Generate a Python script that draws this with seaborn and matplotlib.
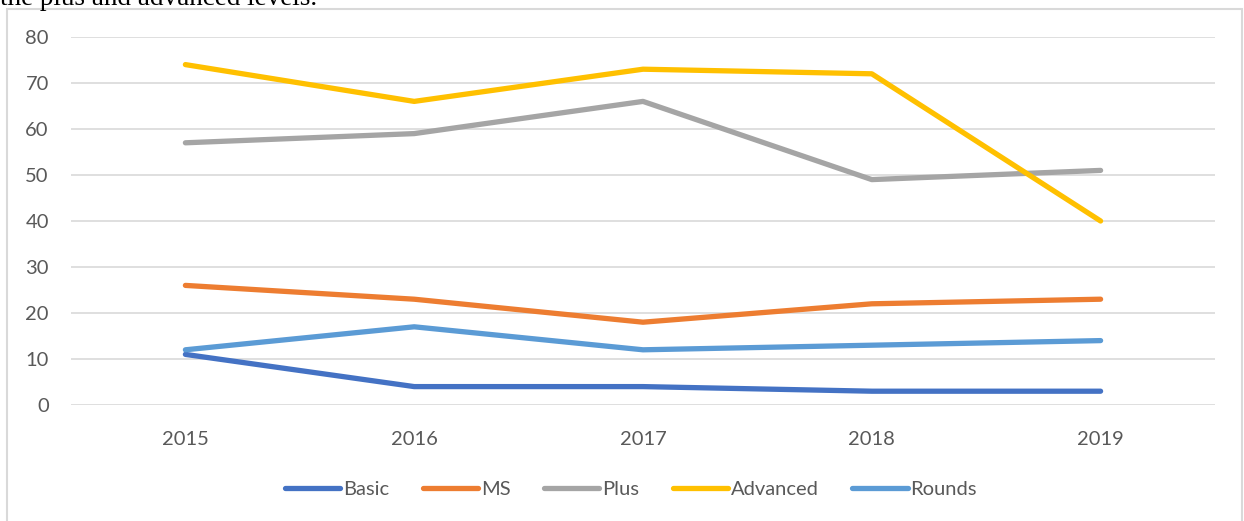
import matplotlib
matplotlib.use("Agg")
import matplotlib.pyplot as plt
import pandas as pd
import seaborn as sns
from matplotlib.patches import Rectangle

# ── Data ───────────────────────────────────────────────────────────────────────
years = ["2015", "2016", "2017", "2018", "2019"]
basic = [11, 4, 4, 3, 3]
ms = [26, 23, 18, 22, 23]
plus = [57, 59, 66, 49, 51]
advanced = [74, 66, 73, 72, 40]
rounds = [12, 17, 12, 13, 14]

series_names = ["Basic", "MS", "Plus", "Advanced", "Rounds"]
colors = ["#4472C4", "#ED7D31", "#A5A5A5", "#FFC000", "#5B9BD5"]
y_ticks = [0, 10, 20, 30, 40, 50, 60, 70, 80]

df = pd.DataFrame({"Basic": basic, "MS": ms, "Plus": plus,
                   "Advanced": advanced, "Rounds": rounds}, index=years)
long_df = df.reset_index(names="year").melt(id_vars="year", var_name="series",
                                            value_name="value")

# ── Style ──────────────────────────────────────────────────────────────────────
sns.set_theme(style="white")
plt.rcParams["font.family"] = ["Lato", "DejaVu Sans"]
text_color = "#595959"
grid_color = "#D9D9D9"

fig = plt.figure(figsize=(12.44, 5.21), dpi=100)
ax = fig.add_axes([71 / 1244, 1 - 405 / 521, (1215 - 71) / 1244, (405 - 37) / 521])

sns.lineplot(data=long_df, x="year", y="value", hue="series",
             hue_order=series_names, palette=colors, linewidth=3.8,
             sort=False, ax=ax, legend=False)
for line in ax.lines:
    line.set_solid_capstyle("round")
    line.set_solid_joinstyle("round")

ax.set_xlim(-0.5, len(years) - 0.5)
ax.set_ylim(0, 80)
ax.set_yticks(y_ticks)
ax.set_xlabel("")
ax.set_ylabel("")
for s in ax.spines.values():
    s.set_visible(False)
ax.yaxis.grid(True, color=grid_color, linewidth=1.2)
ax.set_axisbelow(True)
ax.tick_params(axis="both", length=0, labelsize=14.5, labelcolor=text_color)
ax.tick_params(axis="y", pad=16)
ax.tick_params(axis="x", pad=19)

# legend
handles = [plt.Line2D([], [], color=c, linewidth=3.8, solid_capstyle="round")
           for c in colors]
leg = fig.legend(handles, series_names, loc="center", ncol=5,
                 bbox_to_anchor=(631 / 1244, 1 - 489 / 521), frameon=False,
                 fontsize=14.5, handlelength=2.75, handletextpad=0.15,
                 columnspacing=1.65)
for t in leg.get_texts():
    t.set_color(text_color)

# chart border
fig.patches.append(Rectangle((7 / 1244, -0.01), (1242 - 7) / 1244, 1 - 9 / 521 + 0.01,
                             transform=fig.transFigure, fill=False,
                             edgecolor=grid_color, linewidth=1.5))

# text from the document above the chart, cropped by the screenshot
fig.text(0, 1 - 5 / 521, "the plus and advanced levels.", family="Liberation Serif",
         fontsize=19.5, color="black", va="baseline", ha="left")

fig.savefig("out.png", dpi=100)
